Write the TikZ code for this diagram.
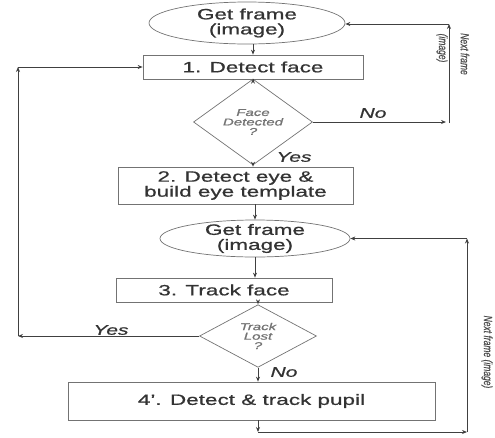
\documentclass[tikz,border=0pt]{standalone}
\usepackage{fontspec}
\setmainfont{Liberation Sans}[FakeStretch=1.5,FakeBold=0.8]
\newfontfamily\plainfont{Liberation Sans}[FakeBold=0.5]
\usetikzlibrary{shapes.geometric,arrows.meta}
\begin{document}
\begin{tikzpicture}[x=1pt,y=-1pt,
 box/.style={draw=black!55,line width=0.7pt,rectangle,inner sep=0pt,text=black!80,font=\fontsize{15}{15}\selectfont,align=center},
 oval/.style={draw=black!55,line width=0.7pt,ellipse,inner xsep=0pt,inner ysep=-3pt,text=black!80,font=\fontsize{15}{15}\selectfont,align=center},
 dec/.style={draw=black!55,line width=0.7pt,diamond,inner sep=0pt,text=black!55,font=\itshape\fontsize{10}{9.5}\selectfont,align=center},
 lab/.style={font=\itshape\fontsize{14}{14}\selectfont,text=black!80,inner sep=0pt},
 arr/.style={draw=black!75,line width=0.8pt,-{Stealth[length=5pt,width=4pt]}},
 rot/.style={rotate=-90,inner sep=0pt,text=black!70,font=\plainfont\itshape\fontsize{8.5}{8.5}\selectfont}]
\useasboundingbox (0,0) rectangle (495,437);
\node[oval,minimum width=196pt,minimum height=42pt] (e1) at (247,23) {Get frame\\(image)};
\node[box,minimum width=220pt,minimum height=24pt] (r1) at (253,67) {1. Detect face};
\node[dec,minimum width=119pt,minimum height=58pt] (d1) at (253,122) {Face\\Detected\\?};
\node[box,minimum width=235pt,minimum height=37pt] (r2) at (235.5,185.5) {2. Detect eye \&\\build eye template};
\node[oval,minimum width=190pt,minimum height=37pt] (e2) at (255,238.5) {Get frame\\(image)};
\node[box,minimum width=216pt,minimum height=24pt] (r3) at (224,290) {3. Track face};
\node[dec,minimum width=117pt,minimum height=58pt] (d2) at (258,336) {Track\\Lost\\?};
\node[box,minimum width=367pt,minimum height=38pt] (r4) at (251.5,401) {4'. Detect \& track pupil};
% vertical flow
\draw[arr] (d1.north |- e1.south) -- (d1.north |- r1.north);
\draw[arr] (d1.north |- r1.south) -- (d1.north);
\draw[arr] (d1.south) -- (d1.south |- r2.north);
\draw[arr] (e2.north |- r2.south) -- (e2.north);
\draw[arr] (e2.south) -- (e2.south |- r3.north);
\draw[arr] (d2.north |- r3.south) -- (d2.north);
\draw[arr] (d2.south) -- (d2.south |- r4.north);
% bottom loop
\coordinate (b1) at (258,432);
\coordinate (b2) at (467,432);
\coordinate (b3) at (467,238.5);
\draw[arr] (d2.south |- r4.south) -- (b1);
\draw[arr] (b1) -- (b2);
\draw[arr] (b2) -- (b3);
\draw[arr] (b3) -- (e2.east);
% top loop
\coordinate (t1) at (446,122);
\coordinate (t2) at (449,123);
\coordinate (t3) at (449,24);
\draw[arr] (d1.east) -- (t1);
\draw[arr] (t2) -- (t3);
\draw[arr] (t3) -- (t3 -| e1.east);
% left loop
\coordinate (l1) at (18,336);
\coordinate (l2) at (18,67);
\draw[arr] (d2.west) -- (l1);
\draw[arr] (l1) -- (l2);
\draw[arr] (l2) -- (r1.west);
% labels
\node[lab] (no1) at (373,113) {No};
\node[lab] (yes1) at (294,157) {Yes};
\node[lab] (yes2) at (111,330) {Yes};
\node[lab] (no2) at (284,372) {No};
\node[rot] (nf1) at (465,54) {\scalebox{1}[1.4]{Next frame}};
\node[rot] (nf3) at (442,48) {\scalebox{1}[1.4]{(image)}};
\node[rot] (nf2) at (487,352) {\scalebox{1}[1.4]{Next frame (image)}};
\end{tikzpicture}
\end{document}
